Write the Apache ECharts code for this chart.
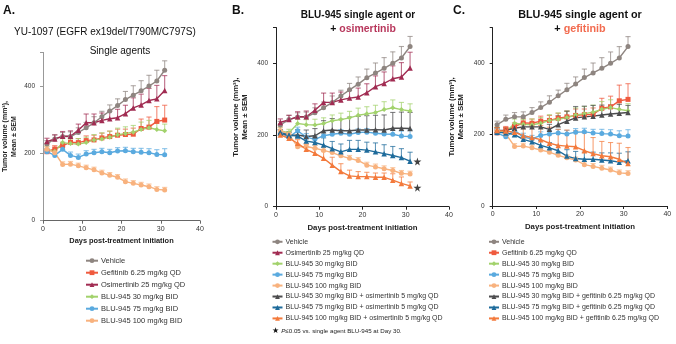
<!DOCTYPE html>
<html><head><meta charset="utf-8">
<script src="https://cdn.jsdelivr.net/npm/echarts@6/dist/echarts.min.js"></script>
<style>html,body{margin:0;padding:0;background:#fff}#c{width:676px;height:344px}</style>
</head><body><div id="c"></div><script>
// ---- data ----
const days = [1, 3, 5, 7, 9, 11, 13, 15, 17, 19, 21, 23, 25, 27, 29, 31];
const yTicks = [0, 200, 400];
const xTicks = [0, 10, 20, 30, 40];

const vehicle      = [228, 243, 250, 250, 262, 276, 291, 309, 326, 342, 360, 373, 386, 400, 415, 447];
const vehicleSem   = [10, 12, 12, 14, 14, 16, 18, 16, 18, 20, 24, 28, 30, 32, 32, 28];
const osimertinib  = [235, 243, 251, 251, 269, 291, 291, 298, 303, 306, 318, 335, 344, 357, 362, 387];
const osiSem       = [10, 12, 14, 16, 18, 26, 26, 22, 22, 25, 25, 30, 32, 36, 40, 44];
const gefitinib    = [205, 213, 223, 233, 232, 238, 240, 246, 250, 254, 256, 257, 274, 278, 295, 299];
const gefSem       = [8, 10, 10, 12, 12, 14, 14, 14, 16, 18, 16, 18, 28, 30, 44, 44];
const blu30        = [212, 206, 232, 229, 228, 232, 240, 243, 248, 255, 259, 263, 271, 276, 271, 267];
const blu30Sem     = [10, 10, 12, 14, 16, 16, 16, 18, 18, 20, 20, 20, 22, 22, 20, 20];
const blu75        = [205, 194, 212, 194, 188, 198, 202, 205, 202, 207, 208, 205, 203, 202, 197, 196];
const blu75Sem     = [10, 8, 10, 10, 10, 10, 10, 10, 10, 10, 10, 10, 12, 12, 14, 18];
const blu100       = [212, 202, 167, 168, 163, 157, 151, 142, 135, 129, 116, 111, 106, 101, 93, 91];
const blu100Sem    = [8, 8, 8, 8, 8, 8, 8, 8, 8, 8, 8, 8, 8, 8, 8, 8];

const blu30osi     = [207, 198, 200, 196, 198, 212, 214, 212, 212, 214, 214, 215, 214, 219, 219, 218];
const blu30osiSem  = [8, 10, 15, 18, 20, 28, 32, 32, 38, 38, 40, 40, 42, 44, 45, 45];
const blu75osi     = [206, 200, 197, 183, 179, 172, 162, 153, 160, 160, 158, 153, 148, 143, 137, 127];
const blu75osiSem  = [8, 8, 10, 12, 15, 20, 20, 22, 25, 25, 22, 25, 25, 25, 25, 25];
const blu100osi    = [200, 191, 177, 160, 149, 135, 116, 98, 86, 84, 84, 82, 82, 74, 65, 58];
const blu100osiSem = [8, 8, 10, 14, 15, 20, 22, 22, 16, 14, 12, 12, 12, 18, 18, 11];

const blu30gef     = [212, 212, 218, 222, 222, 222, 215, 228, 238, 247, 250, 252, 255, 258, 260, 262];
const blu30gefSem  = [8, 8, 10, 12, 12, 14, 14, 25, 28, 32, 30, 30, 28, 25, 25, 20];
const blu75gef     = [207, 205, 200, 187, 180, 170, 163, 155, 140, 133, 131, 131, 129, 127, 123, 127];
const blu75gefSem  = [10, 8, 8, 10, 12, 14, 15, 15, 18, 20, 20, 20, 20, 22, 25, 25];
const blu100gef    = [212, 210, 207, 197, 192, 186, 176, 170, 168, 166, 155, 147, 141, 138, 131, 119];
const blu100gefSem = [8, 10, 15, 20, 30, 40, 45, 45, 45, 45, 50, 45, 40, 40, 45, 45];

const starPoints = [[32.7, 126], [32.7, 53]];

const nVehicle = 'Vehicle';
const nGef = 'Gefitinib 6.25 mg/kg QD';
const nOsi = 'Osimertinib 25 mg/kg QD';
const n30 = 'BLU-945 30 mg/kg BID';
const n75 = 'BLU-945 75 mg/kg BID';
const n100 = 'BLU-945 100 mg/kg BID';
const n30osi = 'BLU-945 30 mg/kg BID + osimertinib 5 mg/kg QD';
const n75osi = 'BLU-945 75 mg/kg BID + osimertinib 5 mg/kg QD';
const n100osi = 'BLU-945 100 mg/kg BID + osimertinib 5 mg/kg QD';
const n30gef = 'BLU-945 30 mg/kg BID + gefitinib 6.25 mg/kg QD';
const n75gef = 'BLU-945 75 mg/kg BID + gefitinib 6.25 mg/kg QD';
const n100gef = 'BLU-945 100 mg/kg BID + gefitinib 6.25 mg/kg QD';

// ---- styles ----
const FONT = '"Liberation Sans", Arial, Helvetica, sans-serif';
const C = {
  vehicle: '#8e8580', gef: '#ef5a3e', osi: '#a12c52', b30: '#a2d26c', b75: '#5aaadf', b100: '#f8b27e',
  b30c: '#4c4c4e', b75c: '#1e6b9b', b100c: '#f37a3c'
};

const chart = echarts.init(document.getElementById('c'), null, {renderer: 'canvas'});

const grids = [
  {left: 40, top: 52.4, width: 160, height: 168.3},
  {left: 276, top: 27.5, width: 173, height: 179.2},
  {left: 492.7, top: 27.7, width: 174.6, height: 178.3}
];

function xAxisFor(i, axisColor, nameSize) {
  return {
    type: 'value', gridIndex: i, min: 0, max: 40, interval: 10,
    axisLine: {show: true, lineStyle: {color: axisColor, width: 1}},
    axisTick: {show: true, length: 3, lineStyle: {color: axisColor}},
    axisLabel: {fontSize: 7, color: '#333', margin: 5, fontFamily: FONT,
      formatter: v => xTicks.includes(v) ? String(v) : ''},
    splitLine: {show: false},
    name: 'Days post-treatment initiation', nameLocation: 'middle', nameGap: 17,
    nameTextStyle: {fontSize: nameSize, fontWeight: 'bold', color: '#222', fontFamily: FONT}
  };
}
function yAxisFor(i, axisColor, nameSize, gap) {
  return {
    type: 'value', gridIndex: i, min: 0, max: 500, interval: 200,
    axisLine: {show: true, lineStyle: {color: axisColor, width: 1}},
    axisTick: {show: true, length: 3, lineStyle: {color: axisColor}},
    axisLabel: {fontSize: 6.5, color: '#333', margin: 8, fontFamily: FONT,
      formatter: v => yTicks.includes(v) ? String(v) : ''},
    splitLine: {show: false},
    name: 'Tumor volume (mm³),\nMean ± SEM', nameLocation: 'middle', nameGap: gap,
    nameTextStyle: {fontSize: nameSize, fontWeight: 'bold', color: '#222', fontFamily: FONT, lineHeight: nameSize + 1.5}
  };
}

function errRender(color) {
  return function (params, api) {
    const x = api.value(0), y = api.value(1), e = api.value(2);
    const p0 = api.coord([x, y]);
    const p1 = api.coord([x, y + e]);
    const w = 2.6;
    return {
      type: 'group',
      children: [
        {type: 'line', shape: {x1: p0[0], y1: p0[1], x2: p1[0], y2: p1[1]}, style: {stroke: color, lineWidth: 1.1, opacity: 0.7}},
        {type: 'line', shape: {x1: p1[0] - w, y1: p1[1], x2: p1[0] + w, y2: p1[1]}, style: {stroke: color, lineWidth: 1.1, opacity: 0.7}}
      ]
    };
  };
}

const series = [];
function addSeries(gi, name, vals, sem, color, symbol) {
  series.push({
    type: 'custom', name: name + ' SEM ' + gi, xAxisIndex: gi, yAxisIndex: gi,
    renderItem: errRender(color), encode: {x: 0, y: 1},
    data: days.map((d, k) => [d, vals[k], sem[k]]), silent: true, z: 2
  });
  series.push({
    type: 'line', name: name, xAxisIndex: gi, yAxisIndex: gi,
    data: days.map((d, k) => [d, vals[k]]),
    symbol: symbol, symbolSize: symbol === 'triangle' ? 5.5 : 5,
    itemStyle: {color: color}, lineStyle: {color: color, width: 1.4},
    z: 3
  });
}

// Panel A
addSeries(0, nVehicle, vehicle, vehicleSem, C.vehicle, 'circle');
addSeries(0, nGef, gefitinib, gefSem, C.gef, 'rect');
addSeries(0, nOsi, osimertinib, osiSem, C.osi, 'triangle');
addSeries(0, n30, blu30, blu30Sem, C.b30, 'diamond');
addSeries(0, n75, blu75, blu75Sem, C.b75, 'circle');
addSeries(0, n100, blu100, blu100Sem, C.b100, 'circle');
// Panel B
addSeries(1, nVehicle, vehicle, vehicleSem, C.vehicle, 'circle');
addSeries(1, nOsi, osimertinib, osiSem, C.osi, 'triangle');
addSeries(1, n30, blu30, blu30Sem, C.b30, 'diamond');
addSeries(1, n75, blu75, blu75Sem, C.b75, 'circle');
addSeries(1, n100, blu100, blu100Sem, C.b100, 'circle');
addSeries(1, n30osi, blu30osi, blu30osiSem, C.b30c, 'triangle');
addSeries(1, n75osi, blu75osi, blu75osiSem, C.b75c, 'triangle');
addSeries(1, n100osi, blu100osi, blu100osiSem, C.b100c, 'triangle');
// Panel C
addSeries(2, nVehicle, vehicle, vehicleSem, C.vehicle, 'circle');
addSeries(2, nGef, gefitinib, gefSem, C.gef, 'rect');
addSeries(2, n30, blu30, blu30Sem, C.b30, 'diamond');
addSeries(2, n75, blu75, blu75Sem, C.b75, 'circle');
addSeries(2, n100, blu100, blu100Sem, C.b100, 'circle');
addSeries(2, n30gef, blu30gef, blu30gefSem, C.b30c, 'triangle');
addSeries(2, n75gef, blu75gef, blu75gefSem, C.b75c, 'triangle');
addSeries(2, n100gef, blu100gef, blu100gefSem, C.b100c, 'triangle');

const STAR = 'path://M50,0 L61,35 L98,35 L68,57 L79,91 L50,70 L21,91 L32,57 L2,35 L39,35 Z';
series.push({
  type: 'scatter', name: 'star', xAxisIndex: 1, yAxisIndex: 1, data: starPoints,
  symbol: STAR, symbolSize: 8, itemStyle: {color: '#111'}, z: 5, silent: true
});

function legendFor(left, top, data, fontSize, lh, iw) {
  return {
    orient: 'vertical', left: left, top: top, data: data, padding: 0, itemGap: 0,
    itemWidth: iw, itemHeight: 6, selectedMode: false,
    textStyle: {fontSize: fontSize, color: '#333', fontFamily: FONT, lineHeight: lh, padding: [0, 0, 0, -2]}
  };
}

const option = {
  animation: false,
  backgroundColor: '#fff',
  grid: grids,
  xAxis: [xAxisFor(0, '#666', 7.4), xAxisFor(1, '#222', 7.8), xAxisFor(2, '#222', 7.8)],
  yAxis: [yAxisFor(0, '#999', 7, 25), yAxisFor(1, '#222', 7.8, 26), yAxisFor(2, '#222', 7.8, 27)],
  legend: [
    legendFor(85, 254.7, [nVehicle, nGef, nOsi, n30, n75, n100], 7.5, 12, 12),
    legendFor(271.5, 236.3, [nVehicle, nOsi, n30, n75, n100, n30osi, n75osi, n100osi], 7, 10.95, 10),
    legendFor(488, 236.3, [nVehicle, nGef, n30, n75, n100, n30gef, n75gef, n100gef], 7, 10.95, 10)
  ],
  graphic: [
    {type: 'text', left: 3, top: 5, style: {text: 'A.', font: 'bold 12px ' + FONT, fill: '#111'}},
    {type: 'text', left: 232, top: 5, style: {text: 'B.', font: 'bold 12px ' + FONT, fill: '#111'}},
    {type: 'text', left: 453, top: 5, style: {text: 'C.', font: 'bold 12px ' + FONT, fill: '#111'}},
    {type: 'text', x: 14, y: 32, style: {text: 'YU-1097 (EGFR ex19del/T790M/C797S)', font: '10px ' + FONT, fill: '#111', textVerticalAlign: 'middle'}},
    {type: 'text', x: 120, y: 51, style: {text: 'Single agents', font: '10px ' + FONT, fill: '#111', textAlign: 'center', textVerticalAlign: 'middle'}},
    {type: 'text', x: 358, y: 15, style: {text: 'BLU-945 single agent or', font: 'bold 10px ' + FONT, fill: '#111', textAlign: 'center', textVerticalAlign: 'middle'}},
    {type: 'text', x: 363, y: 29, style: {
      text: '{k|+ }{o|osimertinib}', textAlign: 'center', textVerticalAlign: 'middle',
      rich: {k: {font: 'bold 10.5px ' + FONT, fill: '#111'}, o: {font: 'bold 10.5px ' + FONT, fill: '#b8375c'}}}},
    {type: 'text', x: 580, y: 15, style: {text: 'BLU-945 single agent or', font: 'bold 10.8px ' + FONT, fill: '#111', textAlign: 'center', textVerticalAlign: 'middle'}},
    {type: 'text', x: 580, y: 29, style: {
      text: '{k|+ }{o|gefitinib}', textAlign: 'center', textVerticalAlign: 'middle',
      rich: {k: {font: 'bold 10.8px ' + FONT, fill: '#111'}, o: {font: 'bold 10.8px ' + FONT, fill: '#f26b4f'}}}},
    {type: 'text', x: 272, y: 331, style: {
      text: '{s|★ }{i|P}{t|≤0.05 vs. single agent BLU-945 at Day 30.}', textVerticalAlign: 'middle',
      rich: {s: {font: '8px ' + FONT, fill: '#111'}, i: {font: 'italic 6.2px ' + FONT, fill: '#222'}, t: {font: '6.2px ' + FONT, fill: '#222'}}}}
  ],
  series: series
};
chart.setOption(option);
</script></body></html>
